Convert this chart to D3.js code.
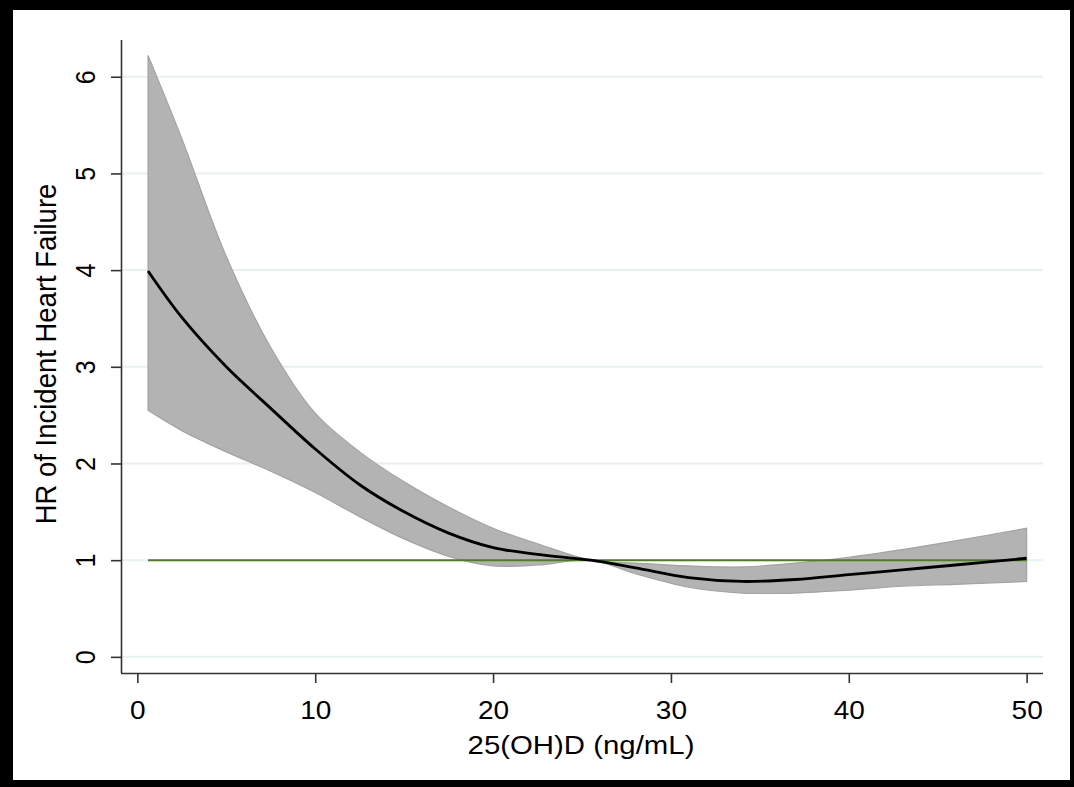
<!DOCTYPE html>
<html>
<head>
<meta charset="utf-8">
<script src="https://cdn.jsdelivr.net/npm/d3@7"></script>
<style>
  body { margin: 0; background: #000; }
  svg { display: block; }
  text { font-family: "Liberation Sans", Arial, sans-serif; fill: #000; }
</style>
</head>
<body>
<div id="chart"></div>
<script>
// 25(OH)D values and estimated hazard ratios
var vitD  = [0.6, 2.5, 5, 7.5, 10, 12.5, 15, 17.5, 20, 22.5, 25.5, 28, 31, 34, 37, 40, 43, 46, 50];
var hr    = [3.99, 3.51, 3.0, 2.57, 2.15, 1.78, 1.50, 1.28, 1.13, 1.06, 1.00, 0.92, 0.82, 0.78, 0.80, 0.85, 0.90, 0.95, 1.02];
var upper = [6.22, 5.36, 4.14, 3.20, 2.52, 2.12, 1.81, 1.55, 1.33, 1.17, 1.00, 0.97, 0.94, 0.93, 0.97, 1.03, 1.11, 1.20, 1.33];
var lower = [2.55, 2.34, 2.12, 1.92, 1.70, 1.45, 1.22, 1.04, 0.94, 0.95, 1.00, 0.86, 0.72, 0.66, 0.66, 0.69, 0.73, 0.75, 0.78];
var xTicks = [0, 10, 20, 30, 40, 50];
var yTicks = [0, 1, 2, 3, 4, 5, 6];
var refHR = 1;

function init() {
    var W = 1074, H = 787;
    var margin = {top: 40, right: 31, bottom: 114, left: 121},
        w = W - margin.left - margin.right,
        h = H - margin.top - margin.bottom;

    var data = vitD.map(function(d, i) {
        return {x: d, hr: hr[i], lo: lower[i], hi: upper[i]};
    });

    var x = d3.scaleLinear().domain([-0.92, 50.92]).range([0, w]),
        y = d3.scaleLinear().domain([-0.167, 6.38]).range([h, 0]);

    var svg = d3.select("#chart").append("svg")
        .attr("width", W)
        .attr("height", H);

    // black frame around the whole graph
    svg.append("rect")
        .attr("width", W).attr("height", H)
        .style("fill", "#000");
    svg.append("rect")
        .attr("x", 13).attr("y", 10)
        .attr("width", 1057).attr("height", 770)
        .style("fill", "#fff");

    var g = svg.append("g")
        .attr("transform", "translate(" + margin.left + "," + margin.top + ")");

    // horizontal grid lines
    g.selectAll(".grid")
        .data(yTicks)
        .enter().append("line")
        .attr("class", "grid")
        .attr("x1", 0).attr("x2", w)
        .attr("y1", function(d) { return y(d); })
        .attr("y2", function(d) { return y(d); })
        .style("stroke", "#e8f0f2")
        .style("stroke-width", 2);

    // confidence band
    var band = d3.area()
        .x(function(d) { return x(d.x); })
        .y0(function(d) { return y(d.lo); })
        .y1(function(d) { return y(d.hi); })
        .curve(d3.curveCatmullRom.alpha(0.5));

    g.append("path")
        .datum(data)
        .attr("d", band)
        .style("fill", "#b3b3b3")
        .style("stroke", "#a3a3a3")
        .style("stroke-width", 1.2);

    // reference line at HR = 1
    g.append("line")
        .attr("x1", x(vitD[0])).attr("x2", x(vitD[vitD.length - 1]))
        .attr("y1", y(refHR)).attr("y2", y(refHR))
        .style("stroke", "#527a2a")
        .style("stroke-width", 2);

    // estimated HR curve
    var line = d3.line()
        .x(function(d) { return x(d.x); })
        .y(function(d) { return y(d.hr); })
        .curve(d3.curveCatmullRom.alpha(0.5));

    g.append("path")
        .datum(data)
        .attr("d", line)
        .style("fill", "none")
        .style("stroke", "#000")
        .style("stroke-width", 2.8);

    // axes
    var xAxis = d3.axisBottom(x).tickValues(xTicks).tickSize(10).tickPadding(18),
        yAxis = d3.axisLeft(y).tickValues(yTicks).tickFormat(d3.format("d")).tickSize(10).tickPadding(6);

    var gx = g.append("g")
        .attr("transform", "translate(0," + h + ")")
        .call(xAxis);
    gx.select(".domain").attr("d", "M0,0.5H" + w);
    gx.selectAll("text")
        .attr("transform", "scale(1.12,1)")
        .style("font-size", "25px")
        .style("font-family", "'Liberation Sans', Arial, sans-serif");

    var gy = g.append("g").call(yAxis);
    gy.select(".domain").attr("d", "M0.5,0V" + h);
    gy.selectAll("text")
        .attr("x", 0).attr("dy", 0)
        .attr("transform", "translate(-26,0) rotate(-90) scale(1,1.12)")
        .attr("text-anchor", "middle")
        .style("font-size", "25px")
        .style("font-family", "'Liberation Sans', Arial, sans-serif");

    g.selectAll(".domain, .tick line")
        .style("stroke", "#333")
        .style("stroke-width", 1.6);

    // axis titles
    svg.append("text")
        .attr("transform", "translate(581,754) scale(1.13,1)")
        .attr("text-anchor", "middle")
        .style("font-size", "26px")
        .text("25(OH)D (ng/mL)");

    svg.append("text")
        .attr("transform", "translate(56,354) rotate(-90) scale(1,1.1)")
        .attr("text-anchor", "middle")
        .style("font-size", "27.5px")
        .text("HR of Incident Heart Failure");
}
init();
</script>
</body>
</html>
